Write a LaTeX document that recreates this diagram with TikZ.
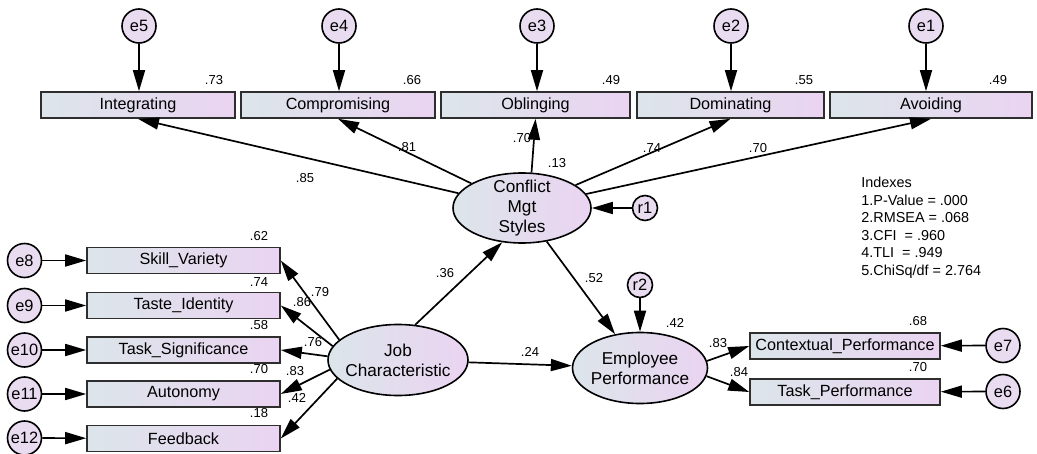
\documentclass[tikz,border=0pt]{standalone}
\usepackage{fontspec}
\setmainfont{Liberation Sans}
\usepackage{tikz}
\usetikzlibrary{arrows.meta,shapes.geometric}
\definecolor{fillL}{HTML}{DCE5EA}
\definecolor{fillR}{HTML}{EAD4F1}
\definecolor{errC}{HTML}{E9DCF1}
\definecolor{edgeC}{HTML}{2E2E2E}

\begin{document}
\begin{tikzpicture}[x=0.5pt,y=-0.5pt,
    obs/.style={draw=edgeC, line width=0.8pt, left color=fillL, right color=fillR,
        minimum height=13pt, inner sep=0pt, font=\fontsize{8.1}{9}\selectfont},
    lat/.style={ellipse, draw=black, line width=0.8pt, left color=fillL, right color=fillR,
        minimum width=69pt, minimum height=35pt, inner sep=0pt},
    latlbl/.style={align=center, font=\fontsize{8.6}{9.9}\selectfont},
    err/.style={circle, draw=black, line width=0.8pt, fill=errC, minimum size=17pt,
        inner sep=0pt, font=\fontsize{8.2}{9}\selectfont},
    res/.style={err, minimum size=12.5pt},
    est/.style={inner sep=0pt, font=\fontsize{6.5}{7}\selectfont},
    path/.style={-{Triangle[length=10.5pt,width=6pt]}, line width=0.85pt}]
    \useasboundingbox (0,0) rectangle (1037,454);

    % conflict management styles and its indicators
    \node[obs, minimum width=97pt] (int) at (138,105) {Integrating};
    \node[obs, minimum width=97pt] (com) at (338,105) {Compromising};
    \node[obs, minimum width=94.5pt] (obl) at (535.5,105) {Oblinging};
    \node[obs, minimum width=93.5pt] (dom) at (730.5,105) {Dominating};
    \node[obs, minimum width=101pt] (avo) at (931,105) {Avoiding};
    \node[err] (e5) at (139,26) {e5};
    \node[err] (e4) at (339,26) {e4};
    \node[err] (e3) at (537,26) {e3};
    \node[err] (e2) at (731,26) {e2};
    \node[err] (e1) at (926,26) {e1};
    \node[est] (rint) at (214,80) {.73};
    \node[est] (rcom) at (412,80) {.66};
    \node[est] (robl) at (611,80) {.49};
    \node[est] (rdom) at (804,80) {.55};
    \node[est] (ravo) at (998,80) {.49};
    \node[lat, label={[latlbl]center:{Conflict\\Mgt\\Styles}}] (cms) at (522,208) {};
    \node[res] (r1) at (645,208) {r1};
    \node[est] (rcms) at (557,163) {.13};
    \node[est] (lint) at (305,178) {.85};
    \node[est] (lcom) at (407,147) {.81};
    \node[est] (lobl) at (522,138) {.70};
    \node[est] (ldom) at (652,148) {.74};
    \node[est] (lavo) at (758,148) {.70};

    % job characteristic and its indicators
    \node[lat, minimum width=70pt, minimum height=35.5pt,
        label={[latlbl]center:{Job\\Characteristic}}] (job) at (398,360) {};
    \node[obs, minimum width=96.5pt] (sv) at (183.5,260.5) {Skill\_Variety};
    \node[obs, minimum width=96.5pt] (ti) at (183.5,305.5) {Taste\_Identity};
    \node[obs, minimum width=96.5pt] (ts) at (183.5,350) {Task\_Significance};
    \node[obs, minimum width=96.5pt] (au) at (183.5,394) {Autonomy};
    \node[obs, minimum width=96.5pt] (fb) at (183.5,438.5) {Feedback};
    \node[err] (e8) at (24.5,260.5) {e8};
    \node[err] (e9) at (24.5,305.5) {e9};
    \node[err] (e10) at (24.5,350) {e10};
    \node[err] (e11) at (24.5,394) {e11};
    \node[err] (e12) at (24.5,438) {e12};
    \node[est] (rsv) at (259,236) {.62};
    \node[est] (rti) at (259,282) {.74};
    \node[est] (rts) at (259,325) {.58};
    \node[est] (rau) at (259,369) {.70};
    \node[est] (rfb) at (259,413) {.18};
    \node[est] (lsv) at (320,292) {.79};
    \node[est] (lti) at (302,302) {.86};
    \node[est] (lts) at (313,342) {.76};
    \node[est] (lau) at (295,371) {.83};
    \node[est] (lfb) at (297,398) {.42};

    % employee performance and its indicators
    \node[lat, minimum width=67.5pt, minimum height=35.5pt,
        label={[latlbl]center:{Employee\\Performance}}] (emp) at (640,368) {};
    \node[res] (r2) at (640,285) {r2};
    \node[obs, minimum width=95pt] (ctx) at (845,346) {Contextual\_Performance};
    \node[obs, minimum width=95pt] (tp) at (845,392) {Task\_Performance};
    \node[err] (e7) at (1003,345.5) {e7};
    \node[err] (e6) at (1003,391.5) {e6};
    \node[est] (rctx) at (918,321) {.68};
    \node[est] (rtp) at (918,367) {.70};
    \node[est] (lctx) at (718,343) {.83};
    \node[est] (ltp) at (739,372) {.84};
    \node[est] (remp) at (675,323) {.42};
    \node[est] (ljc) at (445,273) {.36};
    \node[est] (lce) at (594,278) {.52};
    \node[est] (lje) at (530,352) {.24};

    \node[anchor=north west, align=left, inner sep=0pt, font=\fontsize{7.2}{8.75}\selectfont]
        (idx) at (861,177) {Indexes\\1.P-Value = .000\\2.RMSEA = .068\\3.CFI\ \ = .960\\4.TLI\ \ = .949\\5.ChiSq/df = 2.764};

    \draw[path] (e5) -- (e5 |- int.north);
    \draw[path] (e4) -- (e4 |- com.north);
    \draw[path] (e3) -- (e3 |- obl.north);
    \draw[path] (e2) -- (e2 |- dom.north);
    \draw[path] (e1) -- (e1 |- avo.north);
    \draw[path] (cms) -- (int.south);
    \draw[path] (cms) -- (com.south);
    \draw[path] (cms.75) -- (obl.south);
    \draw[path] (cms) -- (dom.south);
    \draw[path] (cms) -- (avo.south);
    \draw[path] (r1) -- (cms);
    \draw[path] (e8) -- (sv);
    \draw[path] (e9) -- (ti);
    \draw[path] (e10) -- (ts);
    \draw[path] (e11) -- (au);
    \draw[path] (e12) -- (fb);
    \draw[path] (job.161) -- (sv.east);
    \draw[path] (job.168) -- (ti.east);
    \draw[path] (job.177) -- (ts.east);
    \draw[path] (job.188) -- (au.east);
    \draw[path] (job.197) -- (fb.east);
    \draw[path] (job.64) -- (cms.240);
    \draw[path] (job) -- (emp);
    \draw[path] (cms) -- (emp);
    \draw[path] (r2) -- (emp);
    \draw[path] (emp.6) -- (ctx.west);
    \draw[path] (emp.353) -- (tp.west);
    \draw[path] (e7) -- (ctx);
    \draw[path] (e6) -- (tp);
\end{tikzpicture}
\end{document}
